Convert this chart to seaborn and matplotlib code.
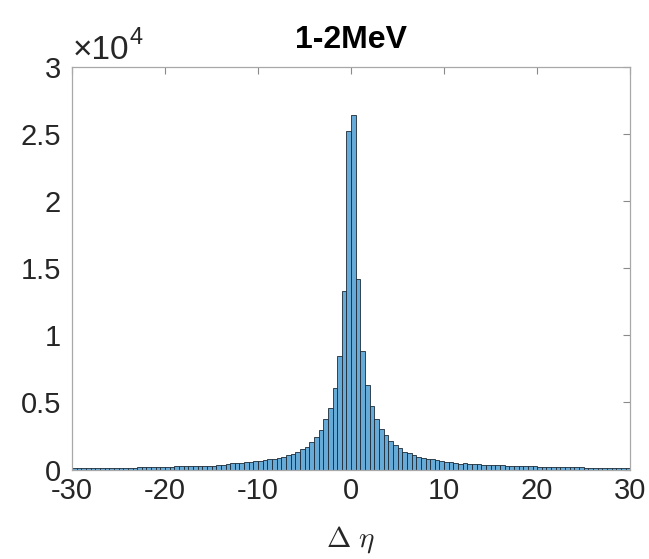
import numpy as np
import pandas as pd
import matplotlib
matplotlib.use("Agg")
import matplotlib.pyplot as plt
import seaborn as sns

TITLE = "1-2MeV"
XLABEL = r"$\Delta\ \eta$"
X_MIN, X_MAX = -30, 30
BIN_WIDTH = 0.5
Y_MAX = 3e4
X_TICKS = [-30, -20, -10, 0, 10, 20, 30]
Y_TICKS = [0, 0.5e4, 1e4, 1.5e4, 2e4, 2.5e4, 3e4]
Y_TICK_LABELS = ["0", "0.5", "1", "1.5", "2", "2.5", "3"]
OFFSET_BASE = "\u00d710"
OFFSET_EXP = "4"

# counts per 0.5-wide bin, left tail (-30 .. -16)
counts_left_tail = [90, 95, 85, 100, 105, 110, 110, 115, 120, 125,
                    130, 140, 140, 150, 160, 165, 170, 180, 190, 200,
                    210, 220, 230, 240, 250, 260, 270, 280, 290]
# bins -15.5 .. -0.5
counts_left_core = [300, 300, 360, 320, 400, 460, 460, 460, 560, 560,
                    630, 630, 710, 780, 780, 830, 950, 1060, 1150, 1330,
                    1530, 1700, 2070, 2400, 2940, 3740, 4560, 6050, 8450, 13300,
                    25200]
# bins 0 .. 15
counts_right_core = [26400, 14150, 8850, 6300, 4730, 3760, 2990, 2570, 2120, 1800,
                     1580, 1300, 1200, 1100, 930, 860, 780, 760, 680, 630,
                     560, 540, 510, 450, 480, 450, 400, 380, 360, 350,
                     330]
# bins 15.5 .. 29.5
counts_right_tail = [320, 310, 290, 280, 270, 260, 250, 240, 230, 220,
                     220, 210, 200, 190, 180, 180, 170, 160, 160, 150,
                     140, 140, 130, 120, 120, 110, 110, 100, 100]

counts = counts_left_tail + counts_left_core + counts_right_core + counts_right_tail
n_bins = len(counts)
centers = X_MIN + BIN_WIDTH * (np.arange(n_bins) + 0.5)
df = pd.DataFrame({"deta": centers, "count": np.asarray(counts, dtype=float)})

sns.set_style("white")
plt.rcParams["font.family"] = ["Liberation Sans", "DejaVu Sans"]
plt.rcParams["mathtext.fontset"] = "cm"

fig = plt.figure(figsize=(6.49, 5.59), dpi=100)
ax = fig.add_axes([0.111, 0.160, 0.860, 0.721])

face = "#66AAD7"
sns.histplot(data=df, x="deta", weights="count", binwidth=BIN_WIDTH,
             binrange=(X_MIN, X_MAX), ax=ax,
             color=face, alpha=1.0, edgecolor="#1c2a36", linewidth=0.6)

ax.set_xlim(X_MIN, X_MAX)
ax.set_ylim(0, Y_MAX)
ax.set_xticks(X_TICKS)
ax.set_xticklabels([str(t) for t in X_TICKS])
ax.set_yticks(Y_TICKS)
ax.set_yticklabels(Y_TICK_LABELS)

ax.tick_params(axis="both", direction="in", length=5, width=0.8,
               colors="#8a8a8a", labelcolor="#262626", labelsize=21,
               top=True, right=True)
ax.tick_params(axis="y", pad=8)
ax.tick_params(axis="x", pad=5)
for s in ax.spines.values():
    s.set_visible(True)
    s.set_color("#a8a8a8")
    s.set_linewidth(0.9)

ax.set_ylabel("")
ax.set_xlabel(XLABEL, fontsize=21, color="#262626", labelpad=14)
ax.set_title(TITLE, fontsize=23, fontweight="bold", color="#000000", pad=13)

# MATLAB-style exponent label above the y axis
ax.annotate(OFFSET_BASE, xy=(0.0, 1.0), xycoords="axes fraction",
            xytext=(0.5, 5.5), textcoords="offset points",
            fontsize=24, color="#262626", ha="left", va="baseline")
ax.annotate(OFFSET_EXP, xy=(0.0, 1.0), xycoords="axes fraction",
            xytext=(41.5, 16), textcoords="offset points",
            fontsize=17, color="#262626", ha="left", va="baseline")

fig.savefig("out.png", dpi=100, facecolor="white")
